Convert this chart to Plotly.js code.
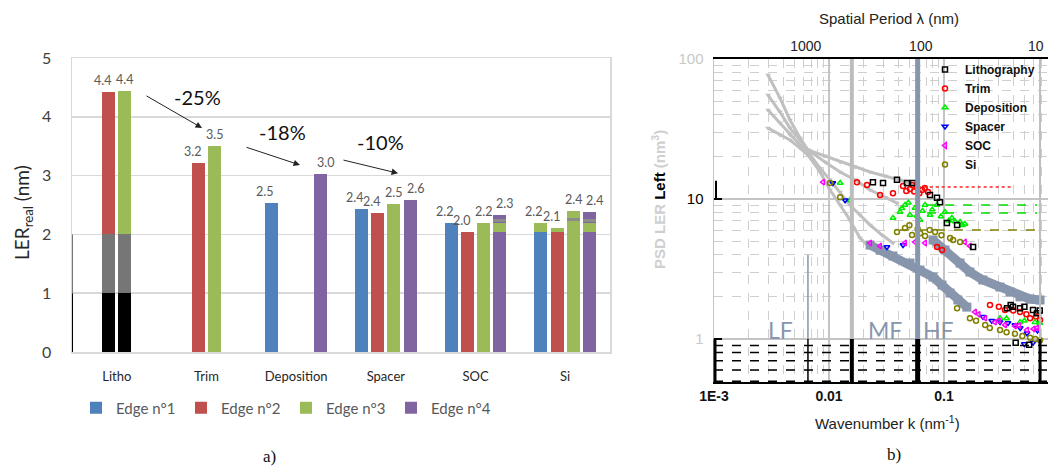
<!DOCTYPE html>
<html><head><meta charset="utf-8">
<script src="https://cdn.plot.ly/plotly-3.0.1.min.js"></script>
<style>html,body{margin:0;padding:0;background:#fff}#chart{width:1049px;height:468px}</style>
</head><body><div id="chart"></div>
<script>
// ---------------- Panel a) data ----------------
const categories = ['Litho', 'Trim', 'Deposition', 'Spacer', 'SOC', 'Si'];
const edgeNames = ['Edge n°1', 'Edge n°2', 'Edge n°3', 'Edge n°4'];
const edge1 = [null, null, 2.53, 2.44, 2.20, 2.20];
const edge2 = [4.42, 3.22, null, 2.37, 2.04, 2.11];
const edge3 = [4.44, 3.50, null, 2.52, 2.20, 2.40];
const edge4 = [null, null, 3.02, 2.58, 2.33, 2.38];
// coloured sub-segments inside some bars
const segCategory = [0, 0, 0, 0, 4, 4, 5, 5, 5, 5, 5];
const segEdge     = [2, 3, 2, 3, 4, 4, 1, 2, 3, 4, 4];
const segBottom   = [0, 0, 1, 1, 2.04, 2.21, 2.04, 2.04, 2.22, 2.04, 2.21];
const segTop      = [1, 1, 2, 2, 2.20, 2.27, 2.20, 2.11, 2.28, 2.20, 2.27];
const segKind     = ['base', 'base', 'mid', 'mid', 'green', 'grey', 'green', 'green', 'grey', 'green', 'grey'];
const stepChanges = ['-25%', '-18%', '-10%'];

// ---------------- Panel b) data (k in nm^-1, PSD in nm^3) ----------------
const grayK1 = [0.00295, 0.00375, 0.00458, 0.0056, 0.00656, 0.00923, 0.0125, 0.0168, 0.0228, 0.0307, 0.0414, 0.0582];
const grayP1 = [76.9, 52.6, 36.7, 27.3, 22.4, 20.3, 18.4, 16.9, 15.6, 14.6, 13.7, 12.6];
const grayK2 = [0.00295, 0.00375, 0.00458, 0.0056, 0.00656, 0.00923, 0.0125, 0.0168, 0.0228, 0.0307, 0.039];
const grayP2 = [55.3, 41.8, 32.1, 26.4, 22.4, 18.4, 15.6, 13.7, 11.6, 10.3, 9.36];
const grayK3 = [0.00295, 0.00375, 0.00458, 0.0056, 0.00656, 0.00836, 0.0102, 0.0125, 0.0152, 0.0186, 0.0228, 0.0289, 0.036];
const grayP3 = [43.2, 34.9, 28.7, 24.3, 21.7, 16.6, 13.7, 11.2, 9.06, 7.69, 6.52, 5.53, 4.85];
const grayK4 = [0.00295, 0.00375, 0.00458, 0.0056, 0.00656, 0.00836, 0.0102, 0.0125, 0.0152, 0.0186, 0.0228, 0.0278];
const grayP4 = [32.1, 28.7, 26.4, 23.1, 20.6, 15.6, 11.6, 9.06, 7.08, 5.26, 4.47, 4.18];

const bandUpperK = [0.0802, 0.102, 0.138, 0.168, 0.218, 0.307, 0.375, 0.458, 0.560, 0.684];
const bandUpperP = [5.1, 4.32, 3.49, 3.01, 2.64, 2.35, 2.17, 2.0, 1.93, 1.9];
const bandLowerK = [0.0228, 0.0278, 0.036, 0.0506, 0.0618, 0.0802, 0.0961, 0.113, 0.132, 0.158];
const bandLowerP = [4.69, 4.32, 3.92, 3.49, 3.11, 2.77, 2.43, 2.13, 1.9, 1.69];

const seriesNames = ['Lithography', 'Trim', 'Deposition', 'Spacer', 'SOC', 'Si'];
const lithoK = [0.0241, 0.0295, 0.039, 0.0477, 0.0537, 0.0755, 0.0869, 0.0923, 0.106, 0.130, 0.179, 0.353, 0.398, 0.458, 0.594, 0.644, 0.42, 0.55, 0.38, 0.50, 0.68];
const lithoP = [13.2, 13.0, 13.7, 13.0, 13.0, 10.7, 10.2, 9.5, 6.74, 6.52, 4.54, 1.66, 1.7, 1.66, 1.61, 1.53, 0.94, 0.91, 1.75, 1.70, 1.60];
const trimK = [0.0175, 0.0214, 0.0278, 0.036, 0.044, 0.0506, 0.0582, 0.0644, 0.0726, 0.0869, 0.0961, 0.251, 0.339, 0.458, 0.56, 0.684, 0.047, 0.053, 0.061, 0.068, 0.055, 0.30, 0.40, 0.52, 0.63];
const trimP = [13.2, 12.6, 10.7, 11.0, 12.4, 11.8, 12.2, 11.6, 11.2, 4.54, 4.32, 1.75, 1.61, 1.56, 1.41, 1.37, 11.4, 12.6, 11.0, 12.0, 11.3, 1.70, 1.60, 1.50, 1.45];
const depoK = [0.0125, 0.0152, 0.036, 0.0414, 0.0458, 0.0506, 0.056, 0.0618, 0.0684, 0.0755, 0.0869, 0.102, 0.117, 0.138, 0.152, 0.307, 0.458, 0.618, 0.043, 0.049, 0.058, 0.065, 0.079, 0.094, 0.11, 0.125, 0.145, 0.35, 0.50, 0.68];
const depoP = [13.0, 9.8, 7.32, 8.07, 9.06, 7.69, 8.62, 7.08, 9.06, 7.69, 9.06, 8.07, 7.32, 6.85, 6.63, 1.41, 1.32, 1.32, 8.6, 9.4, 7.6, 8.2, 8.4, 7.5, 7.0, 6.9, 6.5, 1.40, 1.35, 1.30];
const spacerK = [0.0108, 0.0138, 0.0319, 0.044, 0.218, 0.307, 0.414, 0.527, 0.594, 0.26, 0.36, 0.46, 0.65, 0.50];
const spacerP = [13.0, 9.8, 4.54, 4.69, 1.44, 1.32, 1.26, 1.10, 0.94, 1.35, 1.30, 1.20, 1.15, 0.92];
const socK = [0.00887, 0.0228, 0.0278, 0.0458, 0.056, 0.0684, 0.152, 0.168, 0.186, 0.228, 0.277, 0.339, 0.414, 0.527, 0.644, 0.20, 0.30, 0.45, 0.60];
const socP = [13.2, 4.85, 4.62, 4.85, 4.93, 4.85, 4.93, 4.62, 1.56, 1.41, 1.32, 1.26, 1.24, 1.16, 1.2, 1.50, 1.35, 1.25, 1.18];
const siK = [0.0102, 0.0125, 0.039, 0.0458, 0.0527, 0.059, 0.0684, 0.0836, 0.113, 0.138, 0.130, 0.168, 0.228, 0.307, 0.414, 0.56, 0.684, 0.05, 0.062, 0.075, 0.095, 0.12, 0.25, 0.35, 0.48, 0.62, 0.19];
const siP = [13.0, 10.3, 5.81, 6.21, 5.53, 6.11, 5.44, 5.81, 5.26, 4.93, 1.66, 1.41, 1.26, 1.16, 1.09, 1.02, 0.98, 6.5, 5.7, 6.0, 5.5, 5.1, 1.20, 1.12, 1.05, 1.00, 1.35];

// mean levels drawn as horizontal lines: [k start, k end], level
const trimLevelK = [0.059, 0.40];   const trimLevelP = [12.2, 12.2];
const depoLevel1K = [0.0711, 0.644]; const depoLevel1P = [9.06, 9.06];
const depoLevel2K = [0.0711, 0.644]; const depoLevel2P = [7.94, 7.94];
const siLevelK = [0.0414, 0.644];    const siLevelP = [6.0, 6.0];

// band boundaries (nm^-1) and spatial-period ticks (nm)
const bandEdges = [0.0158, 0.059];
const periodTicks = [1000, 100, 10];

// ---------------- build panel a) ----------------
const W = 1049, H = 468;
const edgeColors = ['#4f81bd', '#c0504d', '#9bbb59', '#8064a2'];
const kindColors = {base: '#000000', mid: '#767676', green: '#9bbb59', grey: '#8c8c8c'};
const slot = [-0.27, -0.09, 0.09, 0.27];
const labelShift = [-7, -6, 0, 5];
const bw = 0.145;
const catIdx = categories.map((c, i) => i);
const traces = [];
const valueLabels = [];
[edge1, edge2, edge3, edge4].forEach((vals, i) => {
  traces.push({
    type: 'bar', x: catIdx, y: vals, name: edgeNames[i], legend: 'legend',
    marker: {color: edgeColors[i]}, width: bw, offset: slot[i] - bw / 2,
    xaxis: 'x', yaxis: 'y', hoverinfo: 'skip'
  });
  vals.forEach((v, c) => {
    if (v == null) return;
    valueLabels.push({text: v.toFixed(1), x: c + slot[i], y: v, xref: 'x', yref: 'y',
      xanchor: 'center', yanchor: 'bottom', yshift: 2, xshift: labelShift[i], showarrow: false,
      font: {family: 'Lato, Open Sans, sans-serif', size: 12.5, color: '#595959'}});
  });
});
segCategory.forEach((c, j) => {
  traces.push({
    type: 'bar', x: [c], base: [segBottom[j]], y: [segTop[j] - segBottom[j]],
    width: bw, offset: slot[segEdge[j] - 1] - bw / 2,
    marker: {color: kindColors[segKind[j]]}, showlegend: false,
    xaxis: 'x', yaxis: 'y', hoverinfo: 'skip'
  });
});

// ---------------- build panel b) ----------------
const grayStyle = {color: '#c0c0c0', width: 3};
[[grayK1, grayP1], [grayK2, grayP2], [grayK3, grayP3], [grayK4, grayP4]].forEach(([k, p]) => {
  traces.push({type: 'scatter', mode: 'lines+markers', x: k, y: p, xaxis: 'x3', yaxis: 'y3',
    line: grayStyle, marker: {color: '#c0c0c0', size: 5, symbol: 'triangle-down'},
    showlegend: false, hoverinfo: 'skip'});
});
const levelLines = [
  [trimLevelK, trimLevelP, '#ff2020', 'dot'],
  [depoLevel1K, depoLevel1P, '#00e000', 'dash'],
  [depoLevel2K, depoLevel2P, '#00e000', 'dash'],
  [siLevelK, siLevelP, '#808000', 'dash']
];
levelLines.forEach(([k, p, c, d]) => {
  traces.push({type: 'scatter', mode: 'lines', x: k, y: p, xaxis: 'x3', yaxis: 'y3',
    line: {color: c, width: 1.5, dash: d}, showlegend: false, hoverinfo: 'skip'});
});
[[bandLowerK, bandLowerP], [bandUpperK, bandUpperP]].forEach(([k, p]) => {
  traces.push({type: 'scatter', mode: 'lines+markers', x: k, y: p, xaxis: 'x3', yaxis: 'y3',
    line: {color: '#8796ad', width: 9}, marker: {color: '#8796ad', size: 9, symbol: 'square'},
    showlegend: false, hoverinfo: 'skip'});
});
const seriesData = [[lithoK, lithoP], [trimK, trimP], [depoK, depoP], [spacerK, spacerP], [socK, socP], [siK, siP]];
const seriesColors = ['#000000', '#ff0000', '#00ee00', '#0000ff', '#ff00ff', '#808000'];
const seriesSymbols = ['square-open', 'circle-open', 'triangle-up-open', 'triangle-down-open', 'triangle-left-open', 'circle-open'];
seriesData.forEach(([k, p], i) => {
  traces.push({type: 'scatter', mode: 'markers', x: k, y: p,
    xaxis: i === 0 ? 'x2' : 'x3', yaxis: 'y3', name: seriesNames[i], legend: 'legend2',
    marker: {color: seriesColors[i], size: 5, symbol: seriesSymbols[i], line: {width: 1.5, color: seriesColors[i]}},
    hoverinfo: 'skip'});
});

// ---------------- layout ----------------
const kRange = [-3, -0.0957];
const pRange = [-0.307, 2];
const minorVals = (lo, hi) => { const v = []; for (let e = lo; e < hi; e++) for (let m = 2; m <= 9; m++) v.push(m * Math.pow(10, e)); return v; };
const px = v => v / W, py = v => 1 - v / H;
const gray = '#cfcfcf';
const paperNote = (text, x, y, font, extra) => Object.assign({text: text, x: px(x), y: py(y), xref: 'paper', yref: 'paper',
  xanchor: 'center', yanchor: 'middle', showarrow: false, font: font}, extra || {});
const pctFont = {family: 'Lato', size: 20, color: '#111'};
const arrowNote = (x, y, ax, ay) => ({text: '', x: x, y: y, ax: ax, ay: ay, xref: 'x', yref: 'y', axref: 'x', ayref: 'y',
  showarrow: true, arrowhead: 2, arrowsize: 1.3, arrowwidth: 1, arrowcolor: '#222'});

const annotations = valueLabels.concat([
  {text: stepChanges[0], x: 0.894, y: 4.34, xref: 'x', yref: 'y', xanchor: 'center', yanchor: 'middle', showarrow: false, font: pctFont},
  {text: stepChanges[1], x: 1.853, y: 3.74, xref: 'x', yref: 'y', xanchor: 'center', yanchor: 'middle', showarrow: false, font: pctFont},
  {text: stepChanges[2], x: 2.935, y: 3.57, xref: 'x', yref: 'y', xanchor: 'center', yanchor: 'middle', showarrow: false, font: pctFont},
  arrowNote(0.95, 3.81, 0.314, 4.37),
  arrowNote(2.043, 3.18, 1.429, 3.49),
  arrowNote(3.136, 3.04, 2.511, 3.27),
  paperNote('LER<sub>real</sub> (nm)', 23, 213, {family: 'Lato', size: 19, color: '#262626'}, {textangle: -90}),
  paperNote('a)', 269, 456, {family: 'Liberation Serif', size: 17, color: '#111'}),
  paperNote('b)', 894, 454, {family: 'Liberation Serif', size: 17, color: '#111'}),
  paperNote('LF', 780, 330, {family: 'Lato', size: 23, color: '#8796ad'}),
  paperNote('MF', 885, 330, {family: 'Lato', size: 23, color: '#8796ad'}),
  paperNote('HF', 938, 330, {family: 'Lato', size: 23, color: '#8796ad'}),
  paperNote('<span style="color:#cfcfcf">PSD LER </span><span style="color:#000">Left</span><span style="color:#cfcfcf"> (nm<sup>3</sup>)</span>',
    658, 200, {family: 'Liberation Sans', size: 15, weight: 'bold'}, {textangle: -90}),
  paperNote('Spatial Period λ (nm)', 889, 19, {family: 'Liberation Sans', size: 15, color: '#222'}),
  paperNote('Wavenumber k (nm<sup>-1</sup>)', 887, 422, {family: 'Liberation Sans', size: 15, color: '#222'})
]);

const shapes = [
  {type: 'line', xref: 'x', yref: 'y', x0: -0.5, x1: -0.5, y0: 0, y1: 1, line: {color: '#000', width: 2}},
  {type: 'line', xref: 'x', yref: 'y', x0: -0.5, x1: -0.5, y0: 1, y1: 2, line: {color: '#767676', width: 2}},
  {type: 'line', xref: 'x3', yref: 'y3', x0: bandEdges[0], x1: bandEdges[0], y0: 1, y1: 100, line: {color: '#bdbdbd', width: 4}},
  {type: 'line', xref: 'x3', yref: 'y3', x0: bandEdges[0], x1: bandEdges[0], y0: 0.49, y1: 1, line: {color: '#000', width: 4}},
  {type: 'line', xref: 'x3', yref: 'y3', x0: bandEdges[1], x1: bandEdges[1], y0: 1, y1: 100, line: {color: '#8796ad', width: 5}},
  {type: 'line', xref: 'x3', yref: 'y3', x0: bandEdges[1], x1: bandEdges[1], y0: 0.49, y1: 1, line: {color: '#000', width: 5}},
  {type: 'line', xref: 'x3', yref: 'y3', x0: 0.00656, x1: 0.00656, y0: 1, y1: 4, line: {color: '#8796ad', width: 1.5}},
  {type: 'line', xref: 'x3', yref: 'y3', x0: 0.00656, x1: 0.00656, y0: 0.49, y1: 1, line: {color: '#000', width: 1.5}},
  {type: 'line', xref: 'x3', yref: 'y3', x0: 0.684, x1: 0.684, y0: 1, y1: 100, line: {color: '#bdbdbd', width: 2}},
  {type: 'line', xref: 'x3', yref: 'y3', x0: 0.684, x1: 0.684, y0: 0.49, y1: 1, line: {color: '#000', width: 3}},
  {type: 'line', xref: 'paper', yref: 'y3', x0: px(715), x1: px(715), y0: 0.49, y1: 1, line: {color: '#000', width: 3}},
  {type: 'line', xref: 'paper', yref: 'y3', x0: px(716), x1: px(716), y0: 10, y1: 13.5, line: {color: '#000', width: 2}}
];
[0.9, 0.8, 0.7, 0.6, 0.5].forEach(v => shapes.push({type: 'line', xref: 'paper', yref: 'y3', x0: px(714), x1: px(1048), y0: v, y1: v, line: {color: '#000', width: 1.5, dash: 'dash'}}));

const layout = {
  width: W, height: H, margin: {l: 0, r: 0, t: 0, b: 0},
  paper_bgcolor: '#fff', plot_bgcolor: '#fff', hovermode: false,
  barmode: 'overlay', bargap: 0,
  xaxis: {domain: [px(72), px(610)], anchor: 'y', range: [-0.5, 5.5], tickvals: catIdx, ticktext: categories,
    showgrid: false, zeroline: false, showline: true, mirror: true, linecolor: '#d9d9d9', linewidth: 1.5,
    ticks: '', ticklabelstandoff: 12, tickfont: {family: 'Lato', size: 13, color: '#262626'}},
  yaxis: {domain: [py(352), py(58)], anchor: 'x', range: [0, 5], dtick: 1,
    showgrid: true, gridcolor: '#d9d9d9', gridwidth: 1.5, zeroline: false,
    showline: true, mirror: true, linecolor: '#d9d9d9', linewidth: 1.5,
    ticks: '', ticklabelstandoff: 16, tickfont: {family: 'Lato', size: 16, color: '#404040'}},
  xaxis3: {domain: [px(714), px(1048)], anchor: 'y3', type: 'log', range: kRange,
    tickvals: [0.001, 0.01, 0.1], ticktext: ['1E-3', '0.01', '0.1'],
    showgrid: true, gridcolor: '#c4c4c4', gridwidth: 1.5, zeroline: false,
    minor: {tickmode: 'array', tickvals: minorVals(-3, 0), showgrid: true, griddash: 'dash', gridcolor: gray, gridwidth: 1, ticks: ''},
    showline: true, linecolor: '#000', linewidth: 2, mirror: false, ticks: '',
    tickfont: {family: 'Liberation Sans', size: 14, color: '#111', weight: 'bold'}},
  xaxis2: {overlaying: 'x3', anchor: 'y3', side: 'top', type: 'log', range: kRange,
    tickvals: periodTicks.map(l => 2 * Math.PI / l), ticktext: periodTicks.map(String),
    showgrid: false, zeroline: false, showline: true, linecolor: '#000', linewidth: 2, ticks: '',
    tickfont: {family: 'Liberation Sans', size: 14, color: '#222'}},
  yaxis3: {domain: [py(382), py(59)], anchor: 'x3', type: 'log', range: pRange,
    tickvals: [1, 10, 100], ticktext: ['<span style="color:#c8c8c8">1</span>', '10', '<span style="color:#c8c8c8">100</span>'],
    showgrid: true, gridcolor: '#c4c4c4', gridwidth: 1.5, zeroline: false,
    minor: {tickmode: 'array', tickvals: minorVals(-1, 2), showgrid: true, griddash: 'dash', gridcolor: gray, gridwidth: 1, ticks: ''},
    showline: true, linecolor: '#c4c4c4', linewidth: 1.5, ticks: 'inside', ticklen: 8, tickcolor: '#000', tickwidth: 1.5,
    ticklabelstandoff: 6, tickfont: {family: 'Liberation Sans', size: 15, color: '#000'}},
  legend: {orientation: 'h', x: px(76), y: py(408), xanchor: 'left', yanchor: 'middle',
    entrywidth: 60, entrywidthmode: 'pixels', itemwidth: 30, bgcolor: 'rgba(0,0,0,0)',
    font: {family: 'Lato', size: 15, color: '#595959'}},
  legend2: {x: px(925), y: py(55), xanchor: 'left', yanchor: 'top', bgcolor: 'rgba(0,0,0,0)',
    itemwidth: 30, tracegroupgap: 0,
    font: {family: 'Liberation Sans', size: 12, color: '#111', weight: 'bold'}},
  annotations: annotations, shapes: shapes
};

Plotly.newPlot('chart', traces, layout, {displayModeBar: false, staticPlot: true});
</script></body></html>
